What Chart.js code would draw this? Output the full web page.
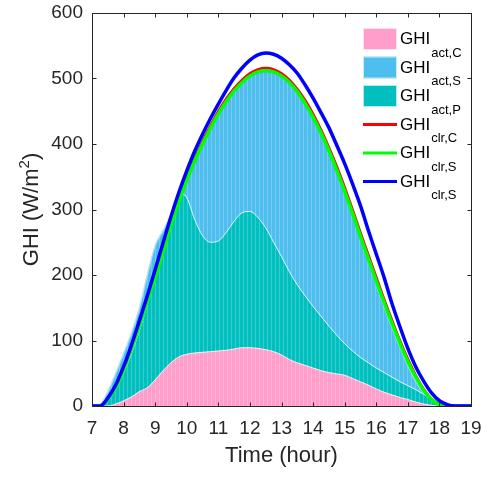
<!DOCTYPE html>
<html>
<head>
<meta charset="utf-8">
<script src="https://cdn.jsdelivr.net/npm/chart.js@4.4.1/dist/chart.umd.min.js"></script>
<style>
  body { margin: 0; background: #fff; }
  canvas { display: block; }
</style>
</head>
<body>
<canvas id="ghiChart" width="491" height="477"></canvas>
<script>
// time of day (hour), quarter-hour steps
const hours = [7, 7.25, 7.5, 7.75, 8, 8.25, 8.5, 8.75, 9, 9.25, 9.5, 9.75,
  10, 10.25, 10.5, 10.75, 11, 11.25, 11.5, 11.75, 12, 12.25, 12.5, 12.75,
  13, 13.25, 13.5, 13.75, 14, 14.25, 14.5, 14.75, 15, 15.25, 15.5, 15.75,
  16, 16.25, 16.5, 16.75, 17, 17.25, 17.5, 17.75, 18, 18.25, 18.5, 18.75, 19];

// actual GHI (filled areas)
const actC = [0, 0, 0, 3, 8, 14, 22, 28, 40, 54, 66, 75,
  79, 81, 82, 83, 84, 85, 87, 89, 89, 88, 86, 83,
  78, 71, 66, 62, 58, 54, 51, 49, 47, 42, 37, 32,
  26, 21, 17, 13, 10, 6, 3, 1, 0, 0, 0, 0, 0];
const actS = [0, 2, 22, 50, 80, 112, 150, 200, 245, 268, 292, 325,
  355, 382, 405, 428, 450, 470, 486, 498, 508, 514, 516, 514,
  507, 496, 482, 464, 442, 418, 390, 360, 327, 292, 256, 221,
  186, 152, 120, 90, 62, 38, 20, 8, 2, 0, 0, 0, 0];
const actP = [0, 0, 8, 25, 50, 80, 115, 155, 198, 240, 285, 325,
  318, 285, 260, 250, 252, 265, 282, 295, 297, 288, 272, 250,
  228, 205, 185, 168, 152, 137, 122, 108, 95, 84, 74, 66,
  58, 51, 44, 37, 31, 25, 18, 10, 3, 0, 0, 0, 0];

// clear-sky GHI (lines)
const clrC = [0, 0, 11, 30, 58, 90, 126, 164, 200, 239, 280, 316,
  349, 378, 404, 428, 450, 469, 485, 498, 508, 514, 516, 514,
  508, 498, 484, 467, 446, 422, 395, 366, 334, 300, 265, 231,
  197, 163, 131, 100, 72, 47, 26, 11, 3, 0, 0, 0, 0];
const clrS = [0, 0, 10, 28, 55, 87, 122, 160, 196, 235, 276, 312,
  345, 374, 400, 424, 446, 465, 481, 494, 504, 510, 512, 510,
  504, 494, 480, 462, 441, 417, 390, 360, 328, 294, 259, 225,
  191, 158, 126, 96, 68, 44, 24, 10, 2, 0, 0, 0, 0];
const clrS2 = [0, 0, 12, 32, 60, 93, 130, 168, 208, 249, 289, 326,
  359, 389, 415, 439, 461, 482, 501, 516, 528, 536, 539, 537,
  531, 521, 508, 490, 470, 448, 425, 398, 370, 339, 306, 268,
  232, 196, 156, 121, 88, 60, 38, 20, 8, 2, 0, 0, 0];

const xTicks = [7, 8, 9, 10, 11, 12, 13, 14, 15, 16, 17, 18, 19];
const yTicks = [0, 100, 200, 300, 400, 500, 600];

const PINK = "#FF9ECA";
const SKY = "#4DBEEE";
const TEAL = "#00BFBF";
const FONT = "'Liberation Sans', Arial, sans-serif";
const INK = "#262626";

const canvas = document.getElementById("ghiChart");
const ctx = canvas.getContext("2d");

// MATLAB-like fill with faint vertical stripes
function striped(color) {
  const c = document.createElement("canvas");
  c.width = 4; c.height = 8;
  const g = c.getContext("2d");
  g.fillStyle = color;
  g.fillRect(0, 0, 4, 8);
  g.fillStyle = "rgba(255,255,255,0.22)";
  g.fillRect(3, 0, 1, 8);
  return ctx.createPattern(c, "repeat");
}

const toXY = arr => arr.map((v, i) => ({ x: hours[i], y: v }));

const legendItems = [
  { sub: "act,C", box: PINK },
  { sub: "act,S", box: SKY },
  { sub: "act,P", box: TEAL },
  { sub: "clr,C", line: "#FF0000" },
  { sub: "clr,S", line: "#00FF00" },
  { sub: "clr,S", line: "#0000FF" },
];

const decorations = {
  id: "decorations",
  afterDatasetsDraw(chart) {
    const { ctx, chartArea: a, scales: { x, y } } = chart;
    ctx.save();
    // axes box with inward ticks
    ctx.strokeStyle = INK;
    ctx.lineWidth = 1;
    const L = Math.round(a.left) + 0.5, R = Math.round(a.right) + 0.5;
    const T = Math.round(a.top) + 0.5, B = Math.round(a.bottom) + 0.5;
    ctx.strokeRect(L, T, R - L, B - T);
    ctx.beginPath();
    xTicks.forEach(v => {
      const px = Math.round(x.getPixelForValue(v)) + 0.5;
      ctx.moveTo(px, B); ctx.lineTo(px, B - 4);
      ctx.moveTo(px, T); ctx.lineTo(px, T + 4);
    });
    yTicks.forEach(v => {
      const py = Math.round(y.getPixelForValue(v)) + 0.5;
      ctx.moveTo(L, py); ctx.lineTo(L + 4, py);
      ctx.moveTo(R, py); ctx.lineTo(R - 4, py);
    });
    ctx.stroke();

    // axis titles
    ctx.fillStyle = INK;
    ctx.textBaseline = "alphabetic";
    ctx.font = "22px " + FONT;
    ctx.textAlign = "center";
    ctx.fillText("Time (hour)", (a.left + a.right) / 2, 462);

    ctx.save();
    ctx.translate(37.5, (a.top + a.bottom) / 2);
    ctx.rotate(-Math.PI / 2);
    ctx.textAlign = "left";
    const p1 = "GHI (W/m", p3 = ")";
    ctx.font = "22px " + FONT;
    const w1 = ctx.measureText(p1).width;
    ctx.font = "15px " + FONT;
    const w2 = ctx.measureText("2").width;
    ctx.font = "22px " + FONT;
    const w3 = ctx.measureText(p3).width;
    let sx = -(w1 + w2 + w3) / 2;
    ctx.fillText(p1, sx, 0);
    ctx.font = "15px " + FONT;
    ctx.fillText("2", sx + w1, -9);
    ctx.font = "22px " + FONT;
    ctx.fillText(p3, sx + w1 + w2, 0);
    ctx.restore();

    // legend
    ctx.textAlign = "left";
    legendItems.forEach((it, i) => {
      const cy = 39 + i * 28.5;
      if (it.box) {
        ctx.fillStyle = it.box;
        ctx.fillRect(363, cy - 11, 34, 22);
        ctx.strokeStyle = "rgba(255,255,255,0.7)";
        ctx.strokeRect(363.5, cy - 10.5, 33, 21);
      } else {
        ctx.strokeStyle = it.line;
        ctx.lineWidth = 3;
        ctx.beginPath();
        ctx.moveTo(363, cy); ctx.lineTo(397, cy);
        ctx.stroke();
        ctx.lineWidth = 1;
      }
      ctx.fillStyle = "#000";
      ctx.font = "17px " + FONT;
      ctx.fillText("GHI", 400, cy + 5);
      const gw = ctx.measureText("GHI").width;
      ctx.font = "13px " + FONT;
      ctx.fillText(it.sub, 401 + gw, cy + 17.5);
    });
    ctx.restore();
  }
};

// invisible tick marks give the label gap without padding the plot top
const hiddenGrid = { display: true, drawOnChartArea: false, drawTicks: true, tickLength: 9, color: "rgba(0,0,0,0)" };

new Chart(ctx, {
  type: "line",
  data: {
    datasets: [
      { label: "GHI clr,S (blue)", data: toXY(clrS2), borderColor: "#0000FF", borderWidth: 3.5, fill: false },
      { label: "GHI clr,S", data: toXY(clrS), borderColor: "#00FF00", borderWidth: 3.5, fill: false },
      { label: "GHI clr,C", data: toXY(clrC), borderColor: "#FF0000", borderWidth: 2.5, fill: false },
      { label: "GHI act,C", data: toXY(actC), borderColor: "rgba(255,255,255,0.85)", borderWidth: 1,
        backgroundColor: striped(PINK), fill: "origin" },
      { label: "GHI act,P", data: toXY(actP), borderColor: "rgba(255,255,255,0.85)", borderWidth: 1,
        backgroundColor: striped(TEAL), fill: "origin" },
      { label: "GHI act,S", data: toXY(actS), borderColor: "rgba(185,225,245,0.9)", borderWidth: 1.5,
        backgroundColor: striped(SKY), fill: "origin" },
    ]
  },
  options: {
    responsive: false,
    animation: false,
    devicePixelRatio: 1,
    layout: { padding: { top: 13, right: 20, left: 0, bottom: 0 } },
    elements: {
      point: { radius: 0 },
      line: { cubicInterpolationMode: "monotone" }
    },
    plugins: { legend: { display: false }, tooltip: { enabled: false } },
    scales: {
      x: {
        type: "linear",
        min: 7, max: 19,
        grid: hiddenGrid,
        border: { display: false },
        afterBuildTicks: s => { s.ticks = xTicks.map(v => ({ value: v })); },
        afterFit: s => { s.height = 71; },
        ticks: { color: INK, font: { family: FONT, size: 19 }, padding: 2, maxRotation: 0 }
      },
      y: {
        min: 0, max: 600,
        grid: hiddenGrid,
        border: { display: false },
        afterBuildTicks: s => { s.ticks = yTicks.map(v => ({ value: v })); },
        afterFit: s => { s.width = 92; },
        ticks: { color: INK, font: { family: FONT, size: 19 }, padding: 0 }
      }
    }
  },
  plugins: [decorations]
});
</script>
</body>
</html>
